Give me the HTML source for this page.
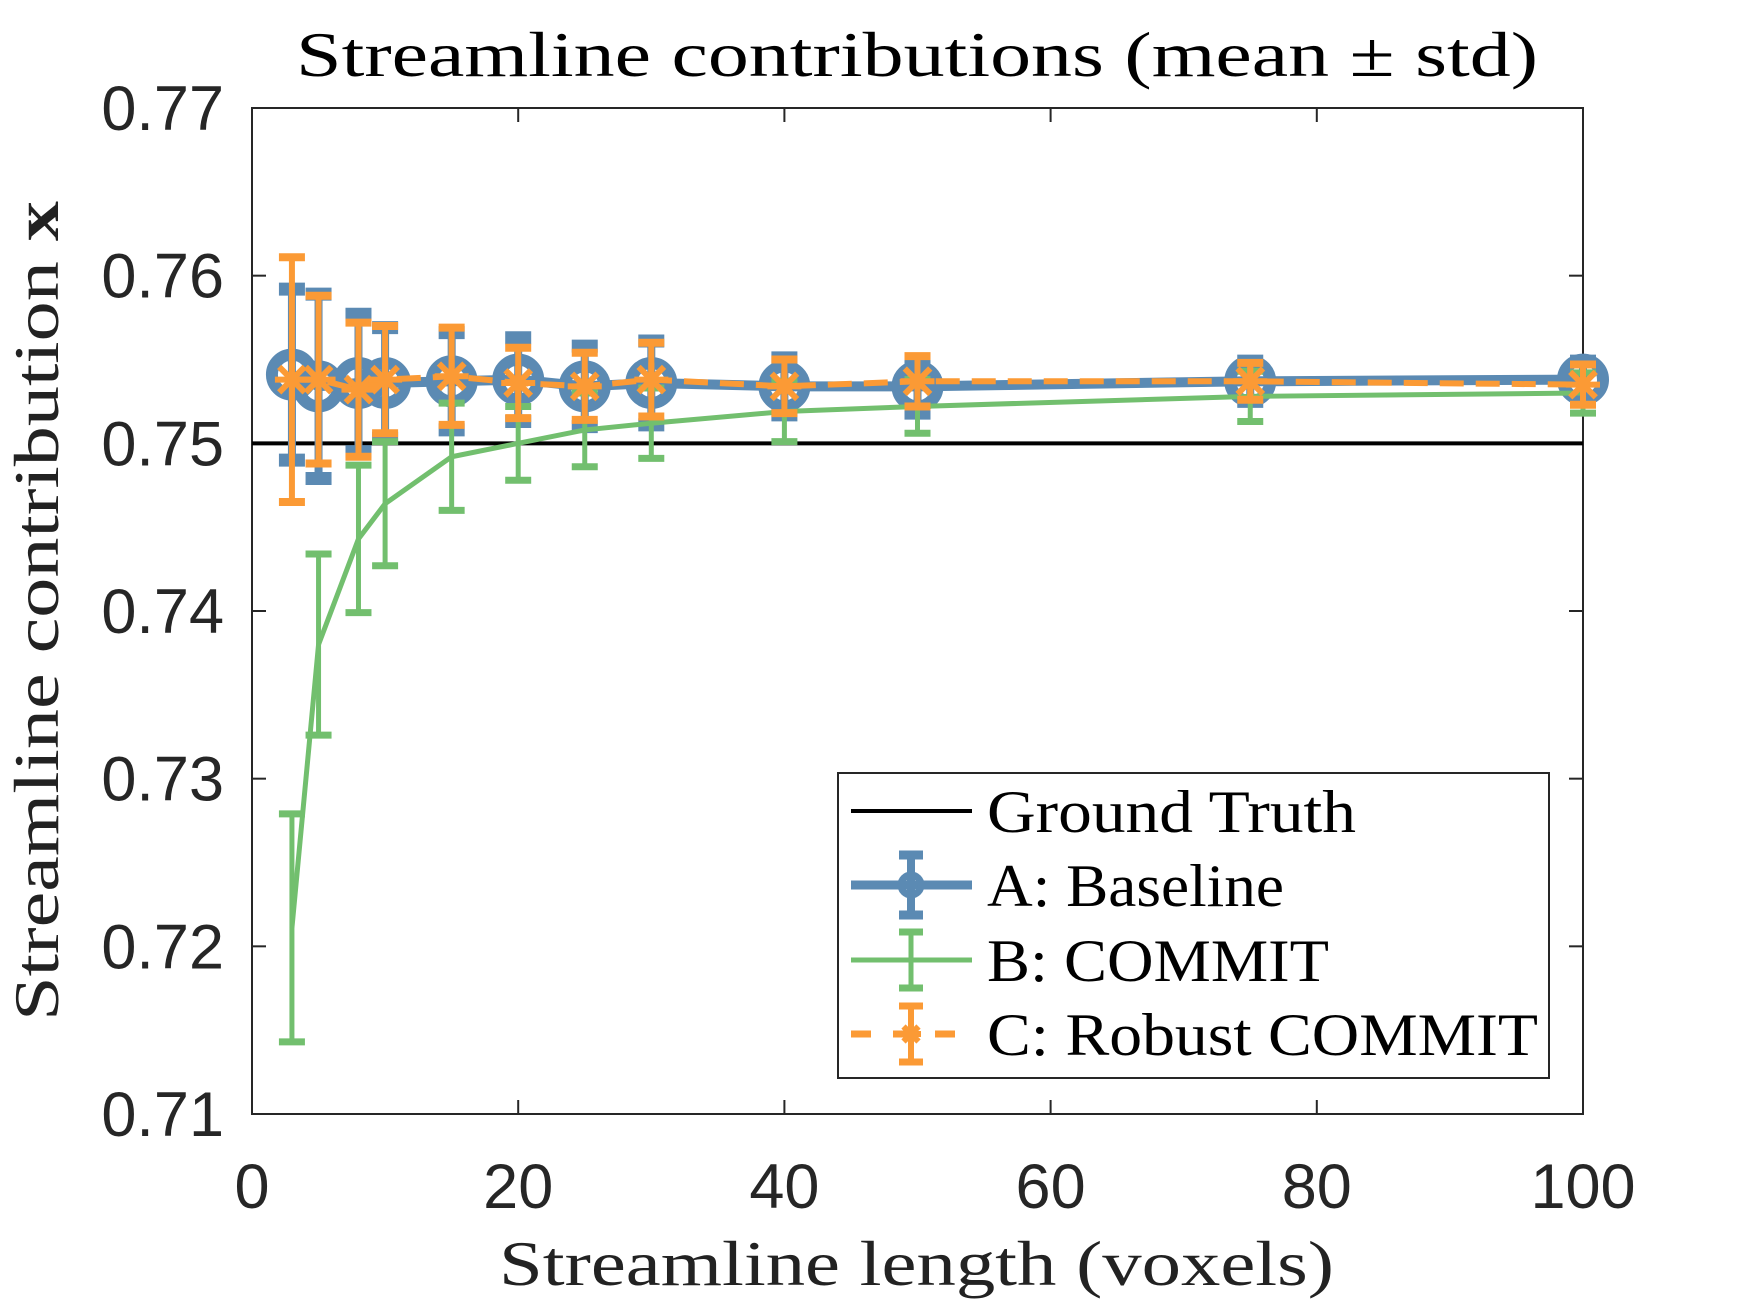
<!DOCTYPE html>
<html><head><meta charset="utf-8">
<style>
html,body{margin:0;padding:0;background:#fff;}
svg{display:block;}
</style></head>
<body>
<svg id="chart" width="1750" height="1313" viewBox="0 0 1750 1313" xmlns="http://www.w3.org/2000/svg">
<rect width="1750" height="1313" fill="#fff"/>
<text x="296" y="76" textLength="1242" lengthAdjust="spacingAndGlyphs" font-family="Liberation Serif, serif" font-size="64" fill="#000">Streamline contributions (mean ± std)</text>
<text x="499" y="1285" textLength="835" lengthAdjust="spacingAndGlyphs" font-family="Liberation Serif, serif" font-size="64" fill="#222">Streamline length (voxels)</text>
<text transform="translate(58,611) rotate(-90)" x="-410" y="0" textLength="820" lengthAdjust="spacingAndGlyphs" font-family="Liberation Serif, serif" font-size="64" fill="#222">Streamline contribution <tspan font-weight="bold">x</tspan></text>
<g id="axes"></g>
<g id="marks"></g>
<g id="legend"></g>
</svg>
<script>
const xs = [3,5,8,10,15,20,25,30,40,50,75,100];
const baselineMean = [0.7541,0.7534,0.7536,0.7536,0.7537,0.7538,0.7534,0.7536,0.7534,0.7534,0.7537,0.7538];
const baselineStd  = [0.0051,0.0055,0.0041,0.0033,0.0029,0.0025,0.0024,0.0025,0.0017,0.0016,0.0012,0.0011];
const commitMean = [0.7211,0.7380,0.7443,0.7464,0.7492,0.7500,0.7508,0.7512,0.7519,0.7522,0.7528,0.7530];
const commitStd  = [0.0068,0.0054,0.0044,0.0037,0.0032,0.0022,0.0022,0.0021,0.0018,0.0016,0.0015,0.0012];
const robustMean = [0.7538,0.7538,0.7532,0.7538,0.7540,0.7536,0.7534,0.7538,0.7534,0.7537,0.7537,0.7535];
const robustStd  = [0.0073,0.0050,0.0040,0.0032,0.0029,0.0021,0.0020,0.0022,0.0016,0.0015,0.0011,0.0012];
const groundTruth = 0.75;
const xTicks = [0,20,40,60,80,100];
const yTicks = [0.71,0.72,0.73,0.74,0.75,0.76,0.77];
const yTickLabels = ["0.71","0.72","0.73","0.74","0.75","0.76","0.77"];

const L=252,R=1583,T=108,B=1114;
const sx = v => L + (v-0)/(100-0)*(R-L);
const sy = v => B - (v-0.71)/(0.77-0.71)*(B-T);
const NS="http://www.w3.org/2000/svg";
function mk(tag, attrs, parent){const e=document.createElementNS(NS,tag);for(const k in attrs)e.setAttribute(k,attrs[k]);parent.appendChild(e);return e;}
const axes=document.getElementById('axes'), marks=document.getElementById('marks'), leg=document.getElementById('legend');

const box=mk('rect',{x:L,y:T,width:R-L,height:B-T,fill:'none',stroke:'#262626','stroke-width':2},axes);


xTicks.forEach(t=>{
  const x=sx(t);
  const g=mk('g',{},axes);
  
  
  mk('line',{x1:x,x2:x,y1:B,y2:B-14,stroke:'#262626','stroke-width':2},g);
  mk('line',{x1:x,x2:x,y1:T,y2:T+14,stroke:'#262626','stroke-width':2},g);
  const tx=mk('text',{x:x,y:1208,'text-anchor':'middle','font-family':'Liberation Sans, sans-serif','font-size':63,fill:'#262626'},g);
  tx.textContent=t;
});
yTicks.forEach((t,i)=>{
  const y=sy(t);
  const g=mk('g',{},axes);
  
  
  mk('line',{x1:L,x2:L+14,y1:y,y2:y,stroke:'#262626','stroke-width':2},g);
  mk('line',{x1:R,x2:R-14,y1:y,y2:y,stroke:'#262626','stroke-width':2},g);
  const tx=mk('text',{x:224,y:y+22,'text-anchor':'end','font-family':'Liberation Sans, sans-serif','font-size':63,fill:'#262626'},g);
  tx.textContent=yTickLabels[i];
});

const gt=mk('line',{x1:L,x2:R,y1:sy(groundTruth),y2:sy(groundTruth),stroke:'#000','stroke-width':4},marks);



function errbars(g,mean,std,color,w,capw,caph){
  xs.forEach((x,i)=>{
    const cx=sx(x), y1=sy(mean[i]+std[i]), y2=sy(mean[i]-std[i]);
    const e=mk('g',{},g);
    
    
    mk('line',{x1:cx,x2:cx,y1:y1,y2:y2,stroke:color,'stroke-width':w},e);
    mk('line',{x1:cx-capw/2,x2:cx+capw/2,y1:y1,y2:y1,stroke:color,'stroke-width':caph},e);
    mk('line',{x1:cx-capw/2,x2:cx+capw/2,y1:y2,y2:y2,stroke:color,'stroke-width':caph},e);
  });
}
function pts(mean){return xs.map((x,i)=>sx(x)+','+sy(mean[i])).join(' ');}

const gA=mk('g',{},marks);


errbars(gA,baselineMean,baselineStd,'#5b8ab3',8,26,13);
mk('polyline',{points:pts(baselineMean),fill:'none',stroke:'#5b8ab3','stroke-width':10},gA);
xs.forEach((x,i)=>{
  const c=mk('circle',{cx:sx(x),cy:sy(baselineMean[i]),r:20,fill:'none',stroke:'#5b8ab3','stroke-width':12},gA);
  
  
});

const gB=mk('g',{},marks);


errbars(gB,commitMean,commitStd,'#72bf6e',5,26,7);
mk('polyline',{points:pts(commitMean),fill:'none',stroke:'#72bf6e','stroke-width':5},gB);

const gC=mk('g',{},marks);


errbars(gC,robustMean,robustStd,'#fb9a35',6,26,8);
mk('polyline',{points:pts(robustMean),fill:'none',stroke:'#fb9a35','stroke-width':6,'stroke-dasharray':'24 12'},gC);
function star(g,cx,cy,s,color,w){
  mk('line',{x1:cx-s,x2:cx+s,y1:cy,y2:cy,stroke:color,'stroke-width':w},g);
  mk('line',{x1:cx,x2:cx,y1:cy-s,y2:cy+s,stroke:color,'stroke-width':w},g);
  const d=s*0.75;
  mk('line',{x1:cx-d,x2:cx+d,y1:cy-d,y2:cy+d,stroke:color,'stroke-width':w},g);
  mk('line',{x1:cx-d,x2:cx+d,y1:cy+d,y2:cy-d,stroke:color,'stroke-width':w},g);
}
xs.forEach((x,i)=>{
  const m=mk('g',{},gC);
  
  
  star(m,sx(x),sy(robustMean[i]),17,'#fb9a35',6);
});

mk('rect',{x:838,y:773,width:711,height:305,fill:'#fff',stroke:'#262626','stroke-width':2},leg);
const entries=[
 {name:'legend-ground-truth',label:'Ground Truth',y:811,w:369},
 {name:'legend-baseline',label:'A: Baseline',y:885,w:297},
 {name:'legend-commit',label:'B: COMMIT',y:960,w:342},
 {name:'legend-robust-commit',label:'C: Robust COMMIT',y:1034,w:551}
];
entries.forEach((en,i)=>{
  const g=mk('g',{},leg);
  
  
  const x1=851,x2=972,xc=911,y=en.y;
  if(i===0){mk('line',{x1:x1,x2:x2,y1:y,y2:y,stroke:'#000','stroke-width':4},g);}
  if(i===1){
    mk('line',{x1:x1,x2:x2,y1:y,y2:y,stroke:'#5b8ab3','stroke-width':9},g);
    mk('line',{x1:xc,x2:xc,y1:y-30,y2:y+30,stroke:'#5b8ab3','stroke-width':8},g);
    mk('line',{x1:xc-12,x2:xc+12,y1:y-30,y2:y-30,stroke:'#5b8ab3','stroke-width':9},g);
    mk('line',{x1:xc-12,x2:xc+12,y1:y+30,y2:y+30,stroke:'#5b8ab3','stroke-width':9},g);
    mk('circle',{cx:xc,cy:y,r:10,fill:'none',stroke:'#5b8ab3','stroke-width':7},g);
  }
  if(i===2){
    mk('line',{x1:x1,x2:x2,y1:y,y2:y,stroke:'#72bf6e','stroke-width':5},g);
    mk('line',{x1:xc,x2:xc,y1:y-28,y2:y+28,stroke:'#72bf6e','stroke-width':5},g);
    mk('line',{x1:xc-12,x2:xc+12,y1:y-28,y2:y-28,stroke:'#72bf6e','stroke-width':7},g);
    mk('line',{x1:xc-12,x2:xc+12,y1:y+28,y2:y+28,stroke:'#72bf6e','stroke-width':7},g);
  }
  if(i===3){
    mk('line',{x1:x1,x2:x2,y1:y,y2:y,stroke:'#fb9a35','stroke-width':7,'stroke-dasharray':'20 22'},g);
    mk('line',{x1:xc,x2:xc,y1:y-28,y2:y+28,stroke:'#fb9a35','stroke-width':6},g);
    mk('line',{x1:xc-12,x2:xc+12,y1:y-28,y2:y-28,stroke:'#fb9a35','stroke-width':7},g);
    mk('line',{x1:xc-12,x2:xc+12,y1:y+28,y2:y+28,stroke:'#fb9a35','stroke-width':7},g);
    star(g,xc,y,10,'#fb9a35',6);
  }
  const t=mk('text',{x:987,y:y+21,textLength:en.w,lengthAdjust:'spacingAndGlyphs','font-family':'Liberation Serif, serif','font-size':60,fill:'#000'},g);
  t.textContent=en.label;
});
</script>
</body></html>
